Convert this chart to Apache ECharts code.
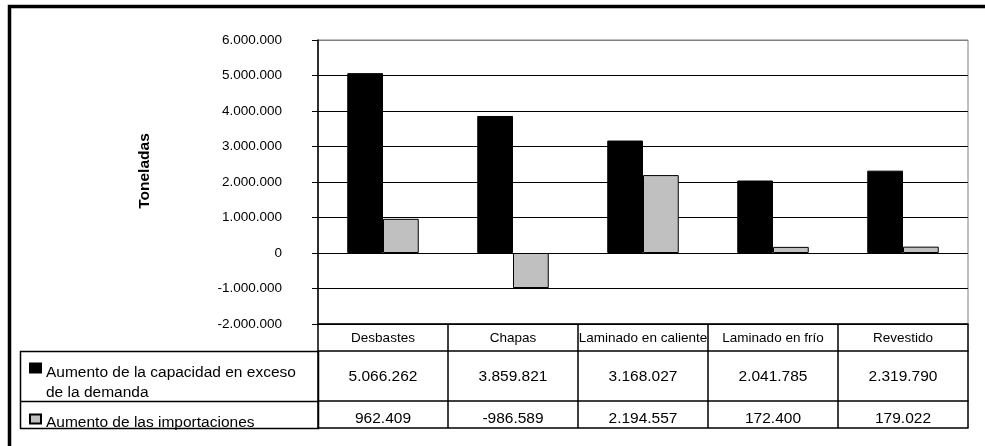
<!DOCTYPE html>
<html>
<head>
<meta charset="utf-8">
<style>
  html, body { margin: 0; padding: 0; background: #fff; }
  #chart { width: 985px; height: 446px; }
</style>
<script src="https://cdn.jsdelivr.net/npm/echarts@6/dist/echarts.min.js"></script>
</head>
<body>
<div id="chart"></div>
<script>
const categories = ['Desbastes', 'Chapas', 'Laminado en caliente', 'Laminado en frío', 'Revestido'];
const capacityExcess = [5066262, 3859821, 3168027, 2041785, 2319790];
const importIncrease = [962409, -986589, 2194557, 172400, 179022];
const seriesNames = ['Aumento de la capacidad en exceso de la demanda', 'Aumento de las importaciones'];
const yMin = -2000000;
const yMax = 6000000;
const yStep = 1000000;

const FONT = 'Arial, "Liberation Sans", sans-serif';

// 1234567 -> 1.234.567
function fmt(v) {
  const s = String(Math.abs(v)).replace(/\B(?=(\d{3})+(?!\d))/g, '.');
  return (v < 0 ? '-' : '') + s;
}

// table geometry (rows under the plot)
const gridLeft = 318, gridTop = 40, gridBottomY = 324;
const headerH = 27, row1H = 50, row2H = 27;
const legendColLeft = 20;
const tableLine = 1.5;

const chart = echarts.init(document.getElementById('chart'));

const tableAxis = (offset, tickLen, labelFmt, margin, fontSize) => ({
  type: 'category',
  data: categories,
  position: 'bottom',
  offset: offset,
  axisLine: { show: true, onZero: false, lineStyle: { color: '#000', width: tableLine } },
  axisTick: { show: tickLen > 0, length: tickLen, interval: 0, lineStyle: { color: '#000', width: tableLine } },
  axisLabel: {
    show: !!labelFmt,
    interval: 0,
    formatter: labelFmt || '',
    margin: margin,
    verticalAlign: 'middle',
    color: '#000',
    fontFamily: FONT,
    fontSize: fontSize
  },
  splitLine: { show: false }
});

// legend text: a blank first line pushes the words below the icon, as in the original table
const legendText = (gap) => ({
  color: '#000',
  fontFamily: FONT,
  fontSize: 15.5,
  rich: {
    gap: { lineHeight: gap, fontSize: 2 },
    t: { color: '#000', fontFamily: FONT, fontSize: 15.5, lineHeight: 20 }
  }
});

const option = {
  animation: false,
  backgroundColor: '#fff',
  grid: {
    left: gridLeft,
    right: 17,
    top: gridTop,
    bottom: 446 - gridBottomY,
    show: true,
    borderColor: '#808080',
    borderWidth: 1,
    backgroundColor: 'transparent'
  },
  legend: [
    {
      data: [seriesNames[0]],
      orient: 'vertical',
      left: 29,
      top: 347,
      padding: 0,
      selectedMode: false,
      icon: 'rect',
      itemWidth: 11,
      itemHeight: 9,
      formatter: (name) => '{gap| }\n{t|' + name.replace(' de la demanda', '}\n{t|de la demanda') + '}',
      textStyle: legendText(30)
    },
    {
      data: [seriesNames[1]],
      orient: 'vertical',
      left: 29,
      top: 408,
      padding: 0,
      selectedMode: false,
      icon: 'rect',
      itemWidth: 11,
      itemHeight: 9,
      formatter: (name) => '{gap| }\n{t|' + name + '}',
      textStyle: legendText(8)
    }
  ],
  xAxis: [
    tableAxis(0, headerH, (v) => v, 14, 13.5),
    tableAxis(headerH, row1H, (v, i) => fmt(capacityExcess[i]), 25.5, 15.5),
    tableAxis(headerH + row1H, row2H, (v, i) => fmt(importIncrease[i]), 18, 15.5),
    tableAxis(headerH + row1H + row2H, 0, null, 0, 12)
  ],
  yAxis: {
    type: 'value',
    min: yMin,
    max: yMax,
    interval: yStep,
    name: 'Toneladas',
    nameLocation: 'middle',
    nameRotate: 90,
    nameGap: 165,
    nameTextStyle: {
      color: '#000', fontFamily: FONT, fontSize: 15.5, fontWeight: 'bold',
      padding: [0, 0, 0, 22]
    },
    axisLine: { show: true, lineStyle: { color: '#000', width: tableLine } },
    axisTick: { show: true, inside: false, length: 6, lineStyle: { color: '#000', width: 1 } },
    axisLabel: {
      formatter: fmt,
      margin: 36,
      color: '#000',
      fontFamily: FONT,
      fontSize: 13.5
    },
    splitLine: {
      show: true,
      lineStyle: {
        color: ['#000', '#000', '#000', '#000', '#000', '#000', '#000', '#000', '#808080'],
        width: 1
      }
    }
  },
  series: [
    {
      name: seriesNames[0],
      type: 'bar',
      xAxisIndex: 0,
      data: capacityExcess,
      barGap: '0%',
      barCategoryGap: '45%',
      itemStyle: { color: '#000', borderColor: '#000', borderWidth: 1 }
    },
    {
      name: seriesNames[1],
      type: 'bar',
      xAxisIndex: 0,
      data: importIncrease,
      barGap: '0%',
      barCategoryGap: '45%',
      itemStyle: { color: '#c0c0c0', borderColor: '#000', borderWidth: 1 }
    }
  ],
  graphic: [
    // outer chart frame (only top & left edges are inside the picture)
    {
      type: 'rect',
      shape: { x: 9.5, y: 6.5, width: 1200, height: 800 },
      style: { fill: 'none', stroke: '#000', lineWidth: 3.5 },
      silent: true
    },
    // legend column of the data table
    {
      type: 'rect',
      shape: {
        x: legendColLeft + 0.5,
        y: gridBottomY + headerH + 0.5,
        width: gridLeft - legendColLeft,
        height: row1H + row2H
      },
      style: { fill: 'none', stroke: '#000', lineWidth: tableLine },
      silent: true
    },
    {
      type: 'line',
      shape: {
        x1: legendColLeft, y1: gridBottomY + headerH + row1H + 0.5,
        x2: gridLeft, y2: gridBottomY + headerH + row1H + 0.5
      },
      style: { stroke: '#000', lineWidth: tableLine },
      silent: true
    }
  ]
};

chart.setOption(option);
</script>
</body>
</html>
